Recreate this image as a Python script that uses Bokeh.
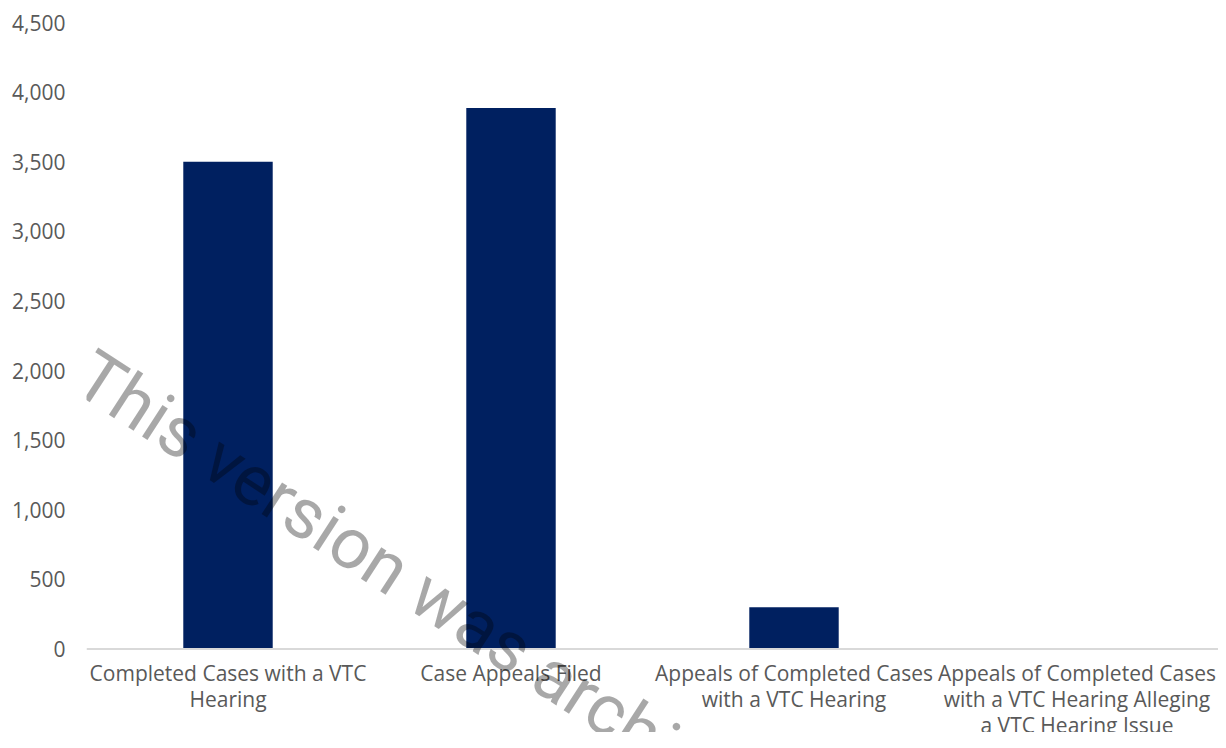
from bokeh.plotting import figure
from bokeh.models import FactorRange, Range1d, FixedTicker, NumeralTickFormatter, Label, ColumnDataSource, Span
from bokeh.core.properties import value
from bokeh.embed import file_html
from bokeh.resources import INLINE

# ---- data ----
categories = [
    "Completed Cases with a VTC Hearing",
    "Case Appeals Filed",
    "Appeals of Completed Cases with a VTC Hearing",
    "Appeals of Completed Cases with a VTC Hearing Alleging a VTC Hearing Issue",
]
tick_labels = [
    "Completed Cases with a VTC\nHearing",
    "Case Appeals Filed",
    "Appeals of Completed Cases\nwith a VTC Hearing",
    "Appeals of Completed Cases\nwith a VTC Hearing Alleging\na VTC Hearing Issue",
]
values = [3500, 3885, 300, 0]
y_ticks = [0, 500, 1000, 1500, 2000, 2500, 3000, 3500, 4000, 4500]
watermark = "This version was archived"

FONT = "Open Sans"
TXT = "#595959"

# layout (pixels)
W, H = 1218, 732
TOP, LEFT = 22, 86
ZERO_PX = 648.5          # canvas y of value 0
y_top = y_ticks[-1]
px_per_unit = (ZERO_PX - TOP) / y_top
y_bottom = -(H - ZERO_PX) / px_per_unit

p = figure(
    width=W, height=H,
    x_range=FactorRange(factors=categories, range_padding=0),
    y_range=Range1d(y_bottom, y_top),
    x_axis_location=None,
    output_backend="svg", toolbar_location=None,
    min_border_left=LEFT, min_border_right=0, min_border_top=TOP, min_border_bottom=0,
)
p.outline_line_color = None
p.xgrid.visible = False
p.ygrid.visible = False
p.background_fill_color = "white"
p.border_fill_color = "white"

src = ColumnDataSource(dict(cat=categories, val=values, lab=tick_labels, zero=[0] * len(values)))
p.vbar(x="cat", top="val", width=0.316, source=src, fill_color="#002060", line_color=None)

# category axis line at 0
p.add_layout(Span(location=0, dimension="width", line_color="#d9d9d9", line_width=2))

# category labels
p.text(x="cat", y="zero", text="lab", source=src, y_offset=10,
       text_align="center", text_baseline="top", text_font=value(FONT),
       text_font_size="21px", text_color=TXT, text_line_height=0.92)

# y axis
ya = p.yaxis[0]
ya.ticker = FixedTicker(ticks=y_ticks)
ya.formatter = NumeralTickFormatter(format="0,0")
ya.axis_line_color = None
ya.major_tick_line_color = None
ya.minor_tick_line_color = None
ya.major_tick_out = 0
ya.major_tick_in = 0
ya.major_label_standoff = 21
ya.major_label_text_font = FONT
ya.major_label_text_font_size = "21px"
ya.major_label_text_color = TXT

# watermark
cat_w = (W - LEFT) / len(categories)
wm_x = (82 - LEFT) / cat_w
wm_y = (ZERO_PX - 368) / px_per_unit
wm = Label(x=wm_x, y=wm_y, text=watermark,
           angle=-33, angle_units="deg", text_font="Roboto", text_font_size="71px",
           text_color="black", text_alpha=0.34, text_baseline="alphabetic", text_align="left")
p.add_layout(wm)

open("out.html", "w").write(file_html(p, INLINE))
